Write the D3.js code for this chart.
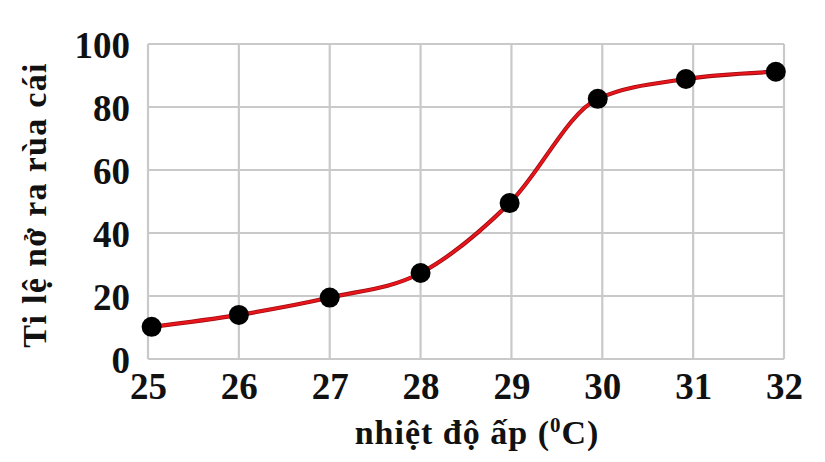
<!DOCTYPE html>
<html><head><meta charset="utf-8">
<script src="https://cdn.jsdelivr.net/npm/d3@7"></script>
<style>
html,body{margin:0;padding:0;background:#fff;}
svg{display:block;}
text{font-family:"Liberation Serif","Times New Roman",serif;font-weight:bold;fill:#111;}
</style></head>
<body>
<svg id="chart" width="825" height="462"></svg>
<script>
// Data
const xTicks = [25, 26, 27, 28, 29, 30, 31, 32];
const yTicks = [0, 20, 40, 60, 80, 100];
const temperature = [25.04, 26, 27, 28, 28.98, 29.95, 30.92, 31.91];
const femaleRate = [10.2, 14, 19.5, 27.3, 49.5, 82.6, 88.9, 91.2];
const xTitle = "nhiệt độ ấp (";
const xTitleSup = "0";
const xTitleEnd = "C)";
const yTitle = "Ti lệ nở ra rùa cái";

const svg = d3.select("#chart");
const m = {left: 148, top: 44, right: 784, bottom: 359};
const x = d3.scaleLinear().domain([25, 32]).range([m.left, m.right]);
const y = d3.scaleLinear().domain([0, 100]).range([m.bottom, m.top]);
const gridColor = "#c9c9c9";

// grid
svg.append("g").selectAll("line.v").data(xTicks).join("line")
  .attr("x1", d => x(d)).attr("x2", d => x(d))
  .attr("y1", m.top).attr("y2", m.bottom)
  .attr("stroke", gridColor).attr("stroke-width", 2.2);
svg.append("g").selectAll("line.h").data(yTicks).join("line")
  .attr("x1", m.left).attr("x2", m.right)
  .attr("y1", d => y(d)).attr("y2", d => y(d))
  .attr("stroke", gridColor).attr("stroke-width", 2.2);

// axes labels
const xAxis = d3.axisBottom(x).tickValues(xTicks).tickSize(0).tickPadding(14).tickFormat(d3.format("d"));
const gx = svg.append("g").attr("transform", `translate(0,${m.bottom})`).call(xAxis);
gx.select(".domain").remove();
gx.selectAll("text").attr("font-size", 37).attr("font-family", "Liberation Serif").attr("font-weight", "bold").attr("fill", "#111");

const yAxis = d3.axisLeft(y).tickValues(yTicks).tickSize(0).tickPadding(18).tickFormat(d3.format("d"));
const gy = svg.append("g").attr("transform", `translate(${m.left},0)`).call(yAxis);
gy.select(".domain").remove();
gy.selectAll("text").attr("font-size", 37).attr("font-family", "Liberation Serif").attr("font-weight", "bold").attr("fill", "#111").attr("dy", "0.36em");

// line
const pts = temperature.map((t, i) => [t, femaleRate[i]]);
const line = d3.line().x(d => x(d[0])).y(d => y(d[1])).curve(d3.curveMonotoneX);
svg.append("path").datum(pts).attr("d", line)
  .attr("fill", "none").attr("stroke", "#9a0c10").attr("stroke-width", 4.2);
svg.append("path").datum(pts).attr("d", line)
  .attr("fill", "none").attr("stroke", "#e8161c").attr("stroke-width", 2.6);

// points
svg.append("g").selectAll("circle").data(pts).join("circle")
  .attr("cx", d => x(d[0])).attr("cy", d => y(d[1])).attr("r", 10)
  .attr("fill", "#000");

// titles
const xt = svg.append("text").attr("x", 477).attr("y", 444).attr("text-anchor", "middle")
  .attr("font-size", 34).attr("letter-spacing", 1);
xt.append("tspan").text(xTitle);
xt.append("tspan").text(xTitleSup).attr("font-size", 21).attr("dy", -12);
xt.append("tspan").text(xTitleEnd).attr("dy", 12);

svg.append("text").attr("transform", "translate(46,205) rotate(-90)")
  .attr("text-anchor", "middle").attr("font-size", 34).attr("letter-spacing", 1.3).text(yTitle);
</script>
</body></html>
